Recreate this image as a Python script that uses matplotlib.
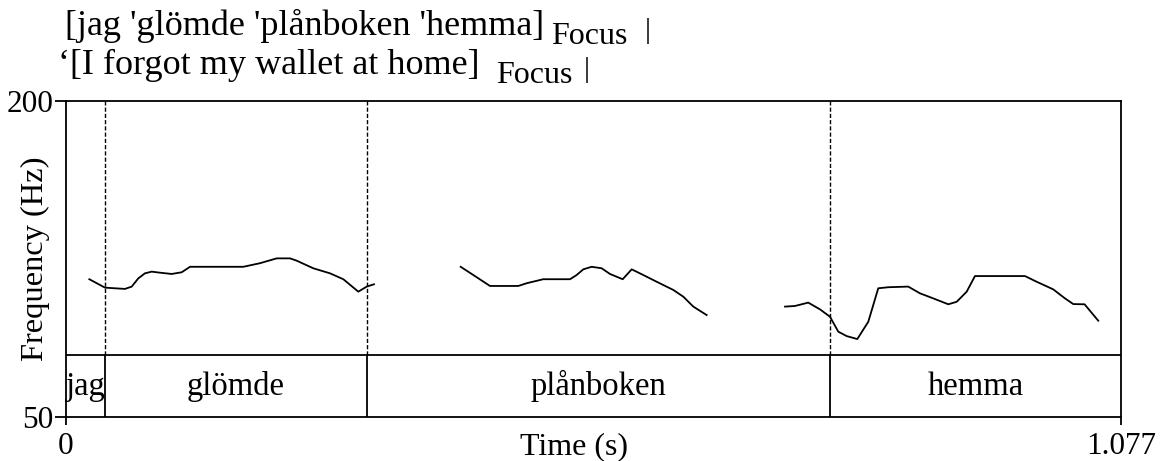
import matplotlib
matplotlib.use('Agg')
import matplotlib.pyplot as plt

plt.rcParams['font.family'] = ['Liberation Serif', 'DejaVu Serif']

# Pitch contour (time in s, F0 in Hz), one list per voiced stretch
seg1_t = [0.0238, 0.0398, 0.0602, 0.0671, 0.0738, 0.0806, 0.0875, 0.0960, 0.1079, 0.1181,
          0.1266, 0.1810, 0.1980, 0.2151, 0.2287, 0.2355, 0.2524, 0.2695, 0.2831, 0.2984,
          0.3070, 0.3144]
seg1_f = [115.4, 111.4, 110.8, 111.9, 115.8, 118.2, 119.0, 118.5, 117.9, 118.7,
          121.3, 121.3, 123.0, 125.3, 125.3, 124.2, 120.6, 118.2, 115.4, 109.5,
          111.9, 113.0]

seg2_t = [0.4029, 0.4158, 0.4328, 0.4617, 0.4703, 0.4872, 0.5145, 0.5213, 0.5281, 0.5366,
          0.5468, 0.5553, 0.5683, 0.5775, 0.5893, 0.6030, 0.6200, 0.6302, 0.6404, 0.6540]
seg2_f = [121.3, 117.4, 112.2, 112.2, 113.5, 115.4, 115.4, 117.4, 120.1, 121.3,
          120.6, 117.9, 115.4, 120.1, 117.4, 114.2, 110.3, 107.1, 102.4, 98.4]

seg3_t = [0.7340, 0.7442, 0.7577, 0.7697, 0.7799, 0.7884, 0.7970, 0.8078, 0.8190, 0.8292,
          0.8394, 0.8598, 0.8718, 0.8854, 0.9007, 0.9093, 0.9195, 0.9279, 0.9790, 0.9909,
          1.0078, 1.0198, 1.0283, 1.0398, 1.0538]
seg3_f = [102.4, 102.7, 104.3, 101.1, 97.6, 90.5, 88.4, 87.0, 95.2, 111.1,
          111.6, 111.9, 108.7, 106.3, 103.5, 104.7, 109.5, 116.9, 116.9, 114.2,
          110.6, 106.3, 103.6, 103.5, 95.7]

# Word tier
boundaries = [0.0401, 0.3070, 0.7799]
words = ['jag', 'glömde', 'plånboken', 'hemma']
t_end = 1.077
f_min, f_max = 50, 200

W, H = 1160, 461
fig = plt.figure(figsize=(W / 100, H / 100), dpi=100)
ax = fig.add_axes([66 / W, 1 - 417 / H, 1055 / W, 316 / H])

for t, f in [(seg1_t, seg1_f), (seg2_t, seg2_f), (seg3_t, seg3_f)]:
    ax.plot(t, f, color='black', lw=1.3)

ax.set_xlim(0, t_end)
ax.set_ylim(f_min, f_max)

tier_top = 0.196
tr = ax.get_xaxis_transform()
ax.axhline(f_min + tier_top * (f_max - f_min), color='black', lw=1.3)
for b in boundaries:
    ax.plot([b, b], [tier_top, 1], transform=tr, color='black', lw=1.0,
            linestyle=(0, (3, 1.5)))
    ax.plot([b, b], [0, tier_top], transform=tr, color='black', lw=1.3)

edges = [0] + boundaries + [t_end]
for i, w in enumerate(words):
    ax.text((edges[i] + edges[i + 1]) / 2, 0.07, w, transform=tr,
            ha='center', va='baseline', fontsize=23.5)

for s in ax.spines.values():
    s.set_linewidth(1.3)

ax.set_yticks([f_min, f_max])
ax.set_yticklabels(['50', '200'])
ax.set_xticks([0, t_end])
ax.set_xticklabels(['0', '1.077'])
ax.tick_params(axis='y', direction='out', length=8, width=1.3, pad=1, labelsize=22.5)
ax.tick_params(axis='x', direction='out', length=6, width=1.3, pad=5, labelsize=22.5)

fig.text(35 / W, 1 - 259 / H, 'Frequency (Hz)', rotation=90, ha='center', va='center',
         fontsize=23.4)
fig.text(574 / W, 1 - 454 / H, 'Time (s)', ha='center', va='baseline', fontsize=23)

# Heading lines
fig.text(65 / W, 1 - 35 / H, "[jag 'glömde 'plånboken 'hemma]", ha='left', va='baseline',
         fontsize=26)
fig.text(551 / W, 1 - 44 / H, 'Focus', ha='left', va='baseline', fontsize=23)
fig.text(645 / W, 1 - 38 / H, '|', ha='left', va='baseline', fontsize=21)

fig.text(58 / W, 1 - 74 / H, '‘[I forgot my wallet at home]', ha='left', va='baseline',
         fontsize=26)
fig.text(496 / W, 1 - 83 / H, 'Focus', ha='left', va='baseline', fontsize=23)
fig.text(584 / W, 1 - 77 / H, '|', ha='left', va='baseline', fontsize=21)

fig.savefig('out.png', dpi=100)
